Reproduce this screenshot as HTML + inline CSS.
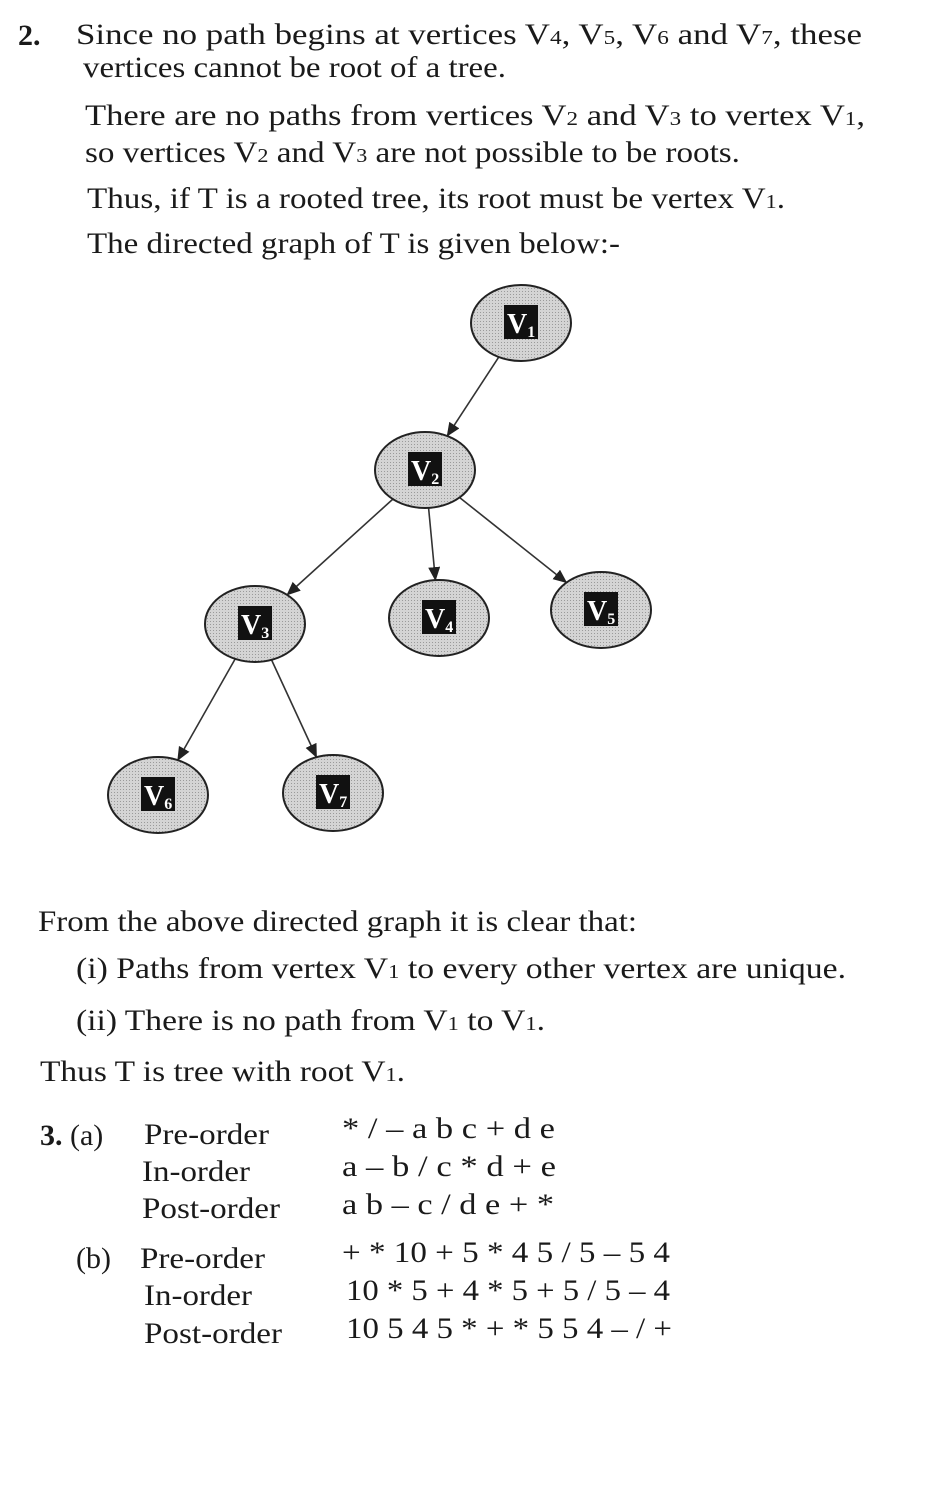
<!DOCTYPE html>
<html><head><meta charset="utf-8">
<style>
html,body{margin:0;padding:0;background:#fff;}
svg{display:block;}
text{font-family:"Liberation Serif",serif;fill:#1a1a1a;}
</style></head>
<body>
<svg id="pg" width="926" height="1506" viewBox="0 0 926 1506">
<defs>
<pattern id="dots" width="3" height="3" patternUnits="userSpaceOnUse">
<rect width="3" height="3" fill="#d4d4d4"/><rect width="1" height="1" fill="#9a9a9a"/>
</pattern>
<marker id="arr" markerWidth="14" markerHeight="12" refX="13" refY="6" orient="auto" markerUnits="userSpaceOnUse" viewBox="0 0 14 12">
<path d="M0,0 L14,6 L0,12 z" fill="#222"/>
</marker>
</defs>
<g font-size="30">
<text x="18" y="45" font-weight="bold">2.</text>
<text x="76" y="44" textLength="786" lengthAdjust="spacingAndGlyphs">Since no path begins at vertices V<tspan font-size="20">4</tspan>, V<tspan font-size="20">5</tspan>, V<tspan font-size="20">6</tspan> and V<tspan font-size="20">7</tspan>, these</text>
<text x="83" y="77" textLength="423" lengthAdjust="spacingAndGlyphs">vertices cannot be root of a tree.</text>
<text x="85" y="125" textLength="780" lengthAdjust="spacingAndGlyphs">There are no paths from vertices V<tspan font-size="20">2</tspan> and V<tspan font-size="20">3</tspan> to vertex V<tspan font-size="20">1</tspan>,</text>
<text x="85" y="162" textLength="655" lengthAdjust="spacingAndGlyphs">so vertices V<tspan font-size="20">2</tspan> and V<tspan font-size="20">3</tspan> are not possible to be roots.</text>
<text x="87" y="208" textLength="698" lengthAdjust="spacingAndGlyphs">Thus, if T is a rooted tree, its root must be vertex V<tspan font-size="20">1</tspan>.</text>
<text x="87" y="253" textLength="533" lengthAdjust="spacingAndGlyphs">The directed graph of T is given below:-</text>
</g>
<g id="tree"></g>
<g font-size="30">
<text x="38" y="931" textLength="599" lengthAdjust="spacingAndGlyphs">From the above directed graph it is clear that:</text>
<text x="76" y="978" textLength="770" lengthAdjust="spacingAndGlyphs">(i)  Paths from vertex V<tspan font-size="20">1</tspan> to every other vertex are unique.</text>
<text x="76" y="1030" textLength="469" lengthAdjust="spacingAndGlyphs">(ii) There is no path from  V<tspan font-size="20">1</tspan> to V<tspan font-size="20">1</tspan>.</text>
<text x="40" y="1081" textLength="365" lengthAdjust="spacingAndGlyphs">Thus T is tree with root V<tspan font-size="20">1</tspan>.</text>
</g>
<g font-size="30">
<text x="40" y="1145"><tspan font-weight="bold">3.</tspan> (a)</text>
<text x="144" y="1144" textLength="125" lengthAdjust="spacingAndGlyphs">Pre-order</text>
<text x="342" y="1138" textLength="213" lengthAdjust="spacingAndGlyphs">* /  – a b c + d e</text>
<text x="142" y="1181" textLength="108" lengthAdjust="spacingAndGlyphs">In-order</text>
<text x="342" y="1176" textLength="214" lengthAdjust="spacingAndGlyphs">a  – b / c * d + e</text>
<text x="142" y="1218" textLength="138" lengthAdjust="spacingAndGlyphs">Post-order</text>
<text x="342" y="1214" textLength="212" lengthAdjust="spacingAndGlyphs">a b  – c / d e + *</text>
<text x="76" y="1268">(b)</text>
<text x="140" y="1268" textLength="125" lengthAdjust="spacingAndGlyphs">Pre-order</text>
<text x="342" y="1262" textLength="328" lengthAdjust="spacingAndGlyphs">+ * 10 + 5 * 4 5 / 5 – 5 4</text>
<text x="144" y="1305" textLength="108" lengthAdjust="spacingAndGlyphs">In-order</text>
<text x="346" y="1300" textLength="324" lengthAdjust="spacingAndGlyphs">10 * 5 + 4 * 5 + 5 / 5 – 4</text>
<text x="144" y="1343" textLength="138" lengthAdjust="spacingAndGlyphs">Post-order</text>
<text x="346" y="1338" textLength="326" lengthAdjust="spacingAndGlyphs">10 5 4 5 * + * 5 5 4 – / +</text>
</g>
</svg>
<script>
const nodeNames = ["1","2","3","4","5","6","7"];
const nodeX = [521, 425, 255, 439, 601, 158, 333];
const nodeY = [323, 470, 624, 618, 610, 795, 793];
const edgeFrom = [0, 1, 1, 1, 2, 2];
const edgeTo = [1, 2, 3, 4, 5, 6];
const NS = "http://www.w3.org/2000/svg";
const g = document.getElementById("tree");
const RX = 50, RY = 38;
function mk(tag, attrs){const e=document.createElementNS(NS,tag);for(const k in attrs)e.setAttribute(k,attrs[k]);return e;}
function boundary(i, dx, dy){
  const t = 1/Math.sqrt((dx*dx)/(RX*RX)+(dy*dy)/(RY*RY));
  return [nodeX[i]+dx*t, nodeY[i]+dy*t];
}
for(let k=0;k<edgeFrom.length;k++){
  const a=edgeFrom[k], b=edgeTo[k];
  const dx=nodeX[b]-nodeX[a], dy=nodeY[b]-nodeY[a];
  const p=boundary(a,dx,dy), q=boundary(b,-dx,-dy);
  const ln=mk("line",{x1:p[0],y1:p[1],x2:q[0],y2:q[1],stroke:"#333","stroke-width":1.6,"marker-end":"url(#arr)"});
  
  
  g.appendChild(ln);
}
for(let i=0;i<nodeNames.length;i++){
  const grp=mk("g",{});
  
  
  grp.appendChild(mk("ellipse",{cx:nodeX[i],cy:nodeY[i],rx:RX,ry:RY,fill:"url(#dots)",stroke:"#222","stroke-width":2}));
  grp.appendChild(mk("rect",{x:nodeX[i]-17,y:nodeY[i]-18,width:34,height:34,fill:"#111"}));
  const t=mk("text",{x:nodeX[i]-14,y:nodeY[i]+10,"font-size":"28","font-weight":"bold",fill:"#fff",style:"fill:#fff"});
  t.textContent="V";
  const s=mk("tspan",{"font-size":"16",style:"fill:#fff",dy:"4"});
  s.textContent=nodeNames[i];
  t.appendChild(s);
  grp.appendChild(t);
  g.appendChild(grp);
}
</script>
</body></html>
